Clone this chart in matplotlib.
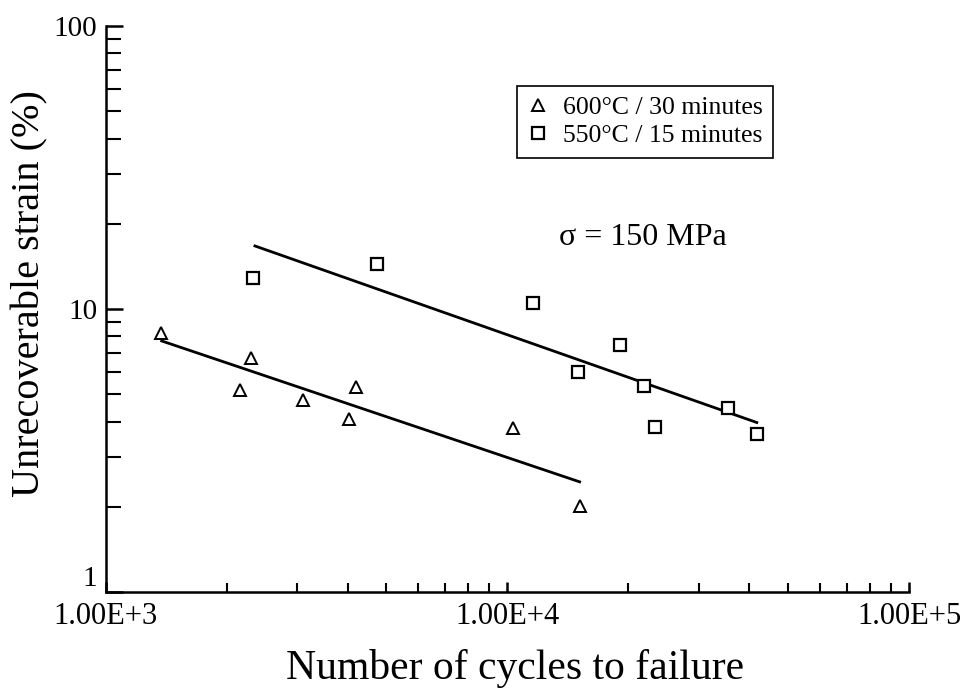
import numpy as np
import matplotlib.pyplot as plt
from matplotlib.ticker import FixedLocator, LogLocator, NullFormatter

plt.rcParams['font.family'] = ['Liberation Serif', 'DejaVu Serif']

# 600°C / 30 minutes
tri_cycles = [1373, 2158, 2298, 3099, 4034, 4198, 10320, 15140]
tri_strain = [8.2, 5.17, 6.71, 4.77, 4.09, 5.30, 3.80, 2.01]
tri_fit_cycles = [1378, 15130]
tri_fit_strain = [7.71, 2.45]

# 550°C / 15 minutes
sq_cycles = [2329, 4722, 11580, 14980, 19100, 21830, 23250, 35520, 41880]
sq_strain = [12.9, 14.39, 10.47, 6.00, 7.44, 5.35, 3.82, 4.46, 3.61]
sq_fit_cycles = [2352, 41780]
sq_fit_strain = [16.7, 3.97]

x_ticks = [1e3, 1e4, 1e5]
x_tick_labels = ['1.00E+3', '1.00E+4', '1.00E+5']
y_ticks = [1, 10, 100]
y_tick_labels = ['1', '10', '100']

fig = plt.figure(figsize=(9.64, 7), dpi=100)
ax = fig.add_axes([0.1097, 0.1543, 0.8333, 0.8086])

ax.plot(tri_fit_cycles, tri_fit_strain, color='black', lw=2)
ax.plot(sq_fit_cycles, sq_fit_strain, color='black', lw=2)
ax.plot(tri_cycles, tri_strain, linestyle='none', marker='^', ms=9,
        mfc='white', mec='black', mew=1.4, label='600°C / 30 minutes')
ax.plot(sq_cycles, sq_strain, linestyle='none', marker='s', ms=8,
        mfc='white', mec='black', mew=1.6, label='550°C / 15 minutes')

ax.set_xscale('log')
ax.set_yscale('log')
ax.set_xlim(1e3, 1e5)
ax.set_ylim(1, 100)

ax.xaxis.set_major_locator(FixedLocator(x_ticks))
ax.set_xticklabels(x_tick_labels)
ax.yaxis.set_major_locator(FixedLocator(y_ticks))
ax.set_yticklabels(y_tick_labels)
ax.xaxis.set_minor_locator(LogLocator(base=10, subs=np.arange(2, 10)))
ax.yaxis.set_minor_locator(LogLocator(base=10, subs=np.arange(2, 10)))
ax.xaxis.set_minor_formatter(NullFormatter())
ax.yaxis.set_minor_formatter(NullFormatter())

for s in ['top', 'right']:
    ax.spines[s].set_visible(False)
for s in ['left', 'bottom']:
    ax.spines[s].set_linewidth(1.8)

ax.tick_params(axis='x', which='major', direction='in', length=7, width=1.8,
               labelsize=22, pad=7)
ax.tick_params(axis='x', which='minor', direction='in', length=6.5, width=1.5)
ax.tick_params(axis='y', which='major', direction='in', length=12, width=1.8,
               labelsize=21, pad=6)
ax.tick_params(axis='y', which='minor', direction='in', length=10.5, width=1.5)
# the "1" label sits just above the x axis
ax.get_yticklabels()[0].set_va('bottom')

ax.set_xlabel('Number of cycles to failure', fontsize=30, labelpad=13)
ax.set_ylabel('Unrecoverable strain (%)', fontsize=29, labelpad=4)
ax.xaxis.label.set_x(0.51)
ax.yaxis.label.set_y(0.528)

ax.text(0.669, 0.627, 'σ = 150 MPa', transform=ax.transAxes,
        fontsize=23, ha='center', va='center')

leg = ax.legend(loc='upper left', bbox_to_anchor=(517 / 964, 1 - 86 / 700),
                bbox_transform=fig.transFigure, borderaxespad=0,
                fontsize=18.5, frameon=True, fancybox=False, handlelength=0.8,
                handletextpad=0.6, borderpad=0.4, labelspacing=0.2,
                framealpha=1)
leg.get_frame().set_edgecolor('black')
leg.get_frame().set_linewidth(1.2)

fig.savefig('out.png', dpi=100)
